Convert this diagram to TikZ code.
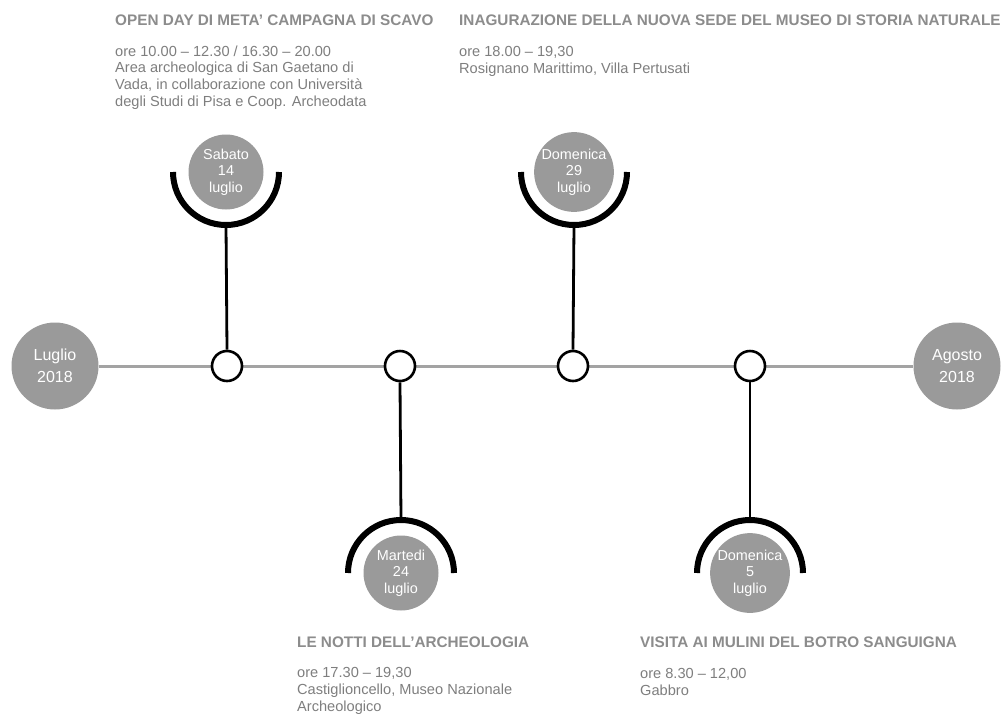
\documentclass[tikz,border=0pt]{standalone}
\usepackage{fontspec}
\setmainfont{Liberation Sans}
\begin{document}
\begin{tikzpicture}[x=1pt,y=-1pt,
  bigdot/.style={circle,fill=dotgray,draw=none,minimum size=87pt,inner sep=0pt,text=white,align=center,font=\fontsize{16}{22.5}\selectfont},
  datedot/.style={circle,fill=dotgray,draw=none,minimum size=75pt,inner sep=0pt,text=white,align=center,font=\fontsize{14.4}{16.5}\selectfont},
  knot/.style={circle,draw=black,line width=2.6pt,fill=white,minimum size=30pt,inner sep=0pt},
  stem/.style={draw=black,line width=2.8pt},
  bracket/.style={draw=black,line width=6pt},
  axis/.style={draw=axisgray,line width=3pt},
  head/.style={anchor=base west,inner sep=0pt,text=headgray,font=\fontsize{15.3}{17}\selectfont\bfseries},
  body/.style={anchor=base west,inner sep=0pt,text=bodygray,align=left,font=\fontsize{14.6}{16.8}\selectfont}]
\definecolor{dotgray}{HTML}{9A9A9A}
\definecolor{axisgray}{HTML}{A3A3A3}
\definecolor{headgray}{HTML}{8C8C8C}
\definecolor{bodygray}{HTML}{7E7E7E}
\useasboundingbox (0,0) rectangle (1007,713);
% axis
\node[bigdot] (lug) at (55,366) {Luglio\\2018};
\node[bigdot] (ago) at (957,366) {Agosto\\2018};
\draw[axis] (lug) -- (ago);
% knots
\node[knot] (k1) at (227,366) {};
\node[knot] (k2) at (400,366) {};
\node[knot] (k3) at (573,366) {};
\node[knot] (k4) at (750,366) {};
% date circles
\node[datedot] (d1) at (226,172) {Sabato\\14\\luglio};
\node[datedot] (d3) at (574,172) {Domenica\\29\\luglio};
\node[datedot] (d2) at (401,573) {Martedi\\24\\luglio};
\node[datedot] (d4) at (750,573) {Domenica\\5\\luglio};
% brackets
\draw[bracket] ([xshift=-53pt]d1.center) arc[start angle=180,end angle=360,radius=53pt];
\draw[bracket] ([xshift=-53pt]d3.center) arc[start angle=180,end angle=360,radius=53pt];
\draw[bracket] ([xshift=-53pt]d2.center) arc[start angle=180,end angle=0,radius=53pt];
\draw[bracket] ([xshift=-53pt]d4.center) arc[start angle=180,end angle=0,radius=53pt];
\coordinate (b1) at ([yshift=-53pt]d1.center);
\coordinate (b3) at ([yshift=-53pt]d3.center);
\coordinate (b2) at ([yshift=53pt]d2.center);
\coordinate (b4) at ([yshift=53pt]d4.center);
\draw[stem] (b1) -- (k1.north);
\draw[stem] (b3) -- (k3.north);
\draw[stem] (b2) -- (k2.south);
\draw[stem] (b4) -- (k4.south);
% texts (body nodes are placed by the baseline of their last line)
\node[head] (h1) at (115,25) {OPEN DAY DI META' CAMPAGNA DI SCAVO};
\node[body] (t1) at (115,106.5) {ore 10.00 -- 12.30 / 16.30 -- 20.00\\Area archeologica di San Gaetano di\\Vada, in collaborazione con Università\\degli Studi di Pisa e Coop. Archeodata};
\node[head] (h3) at (459,25) {INAGURAZIONE DELLA NUOVA SEDE DEL MUSEO DI STORIA NATURALE};
\node[body] (t3) at (459,73) {ore 18.00 -- 19,30\\Rosignano Marittimo, Villa Pertusati};
\node[head] (h2) at (297,647) {LE NOTTI DELL’ARCHEOLOGIA};
\node[body] (t2) at (297,711.5) {ore 17.30 -- 19,30\\Castiglioncello, Museo Nazionale\\Archeologico};
\node[head] (h4) at (640,647) {VISITA AI MULINI DEL BOTRO SANGUIGNA};
\node[body] (t4) at (640,695) {ore 8.30 -- 12,00\\Gabbro};
\end{tikzpicture}
\end{document}
